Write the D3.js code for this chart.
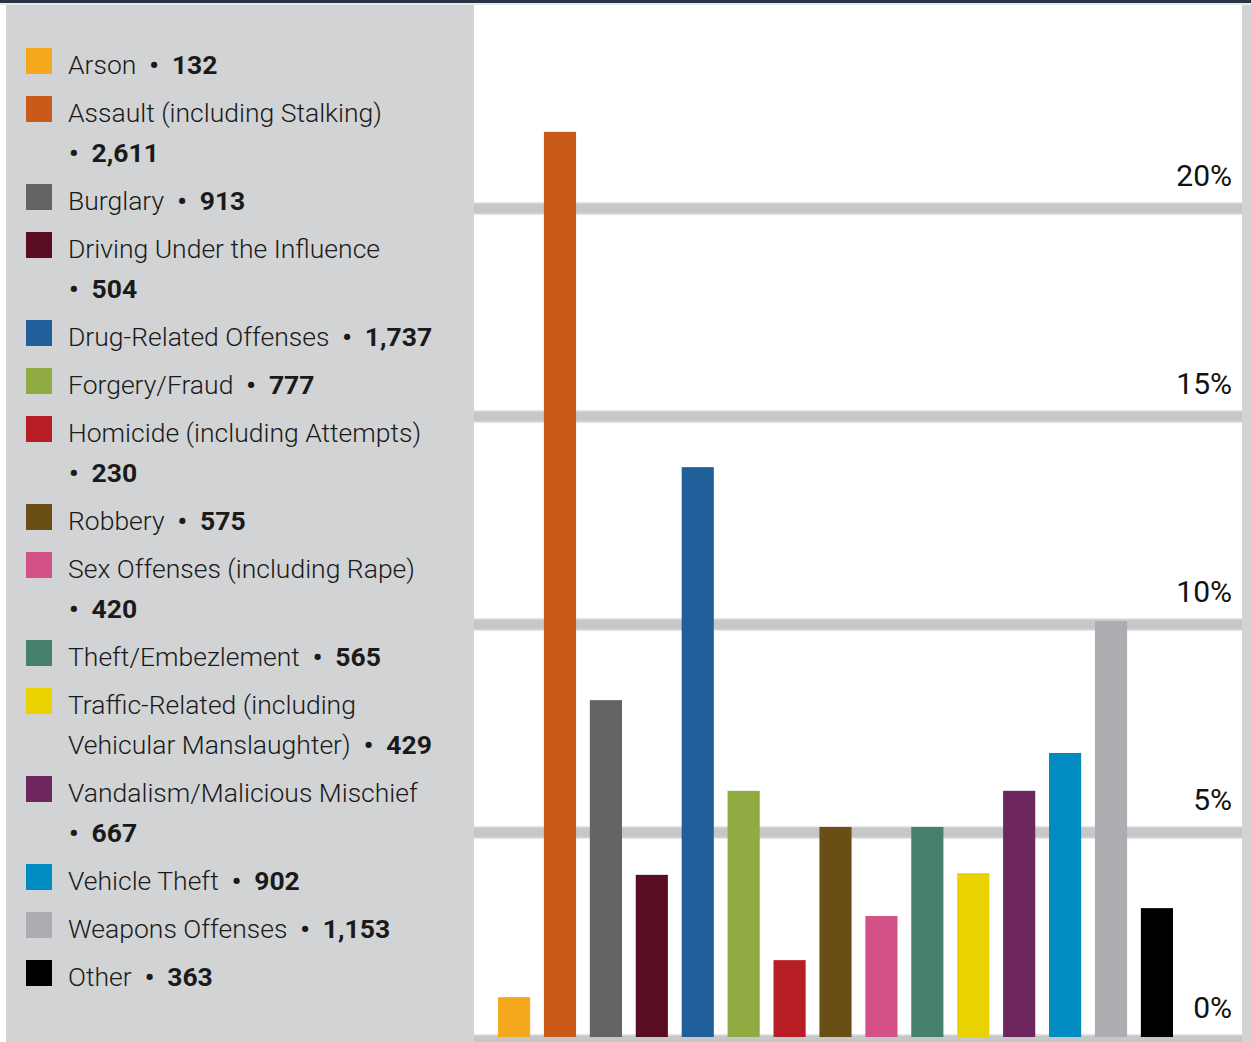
<!DOCTYPE html>
<html>
<head>
<meta charset="utf-8">
<script src="https://cdn.jsdelivr.net/npm/d3@7"></script>
<style>
  body { margin: 0; background: #fff; }
  svg { display: block; font-family: Roboto, "Noto Sans", sans-serif; }
</style>
</head>
<body>
<div id="chart"></div>
<script>
// offense categories, counts shown in the legend, bar heights (% share) and colours
const categories = ["Arson", "Assault (including Stalking)", "Burglary", "Driving Under the Influence",
  "Drug-Related Offenses", "Forgery/Fraud", "Homicide (including Attempts)", "Robbery",
  "Sex Offenses (including Rape)", "Theft/Embezlement", "Traffic-Related (including Vehicular Manslaughter)",
  "Vandalism/Malicious Mischief", "Vehicle Theft", "Weapons Offenses", "Other"];
const counts = [132, 2611, 913, 504, 1737, 777, 230, 575, 420, 565, 429, 667, 902, 1153, 363];
const shares = [1.03, 21.83, 8.17, 3.97, 13.77, 5.99, 1.92, 5.12, 2.98, 5.12, 4.01, 5.99, 6.9, 10.07, 3.17];
const colors = ["#f5a81c", "#c95a1a", "#636466", "#5a0d22", "#215f9a", "#8fab41", "#b71d25", "#6b4e16",
  "#d35186", "#46806b", "#ead200", "#6e265e", "#008bc1", "#acadb0", "#000000"];
const yTicks = [0, 5, 10, 15, 20];

const W = 1251, H = 1042;
const svg = d3.select("#chart").append("svg").attr("width", W).attr("height", H);

// panels
svg.append("rect").attr("x", 6).attr("y", 4).attr("width", 468).attr("height", H).attr("fill", "#d1d3d4");
svg.append("rect").attr("x", 1242).attr("y", 4).attr("width", 9).attr("height", H).attr("fill", "#d1d3d4");
svg.append("rect").attr("x", 0).attr("y", 0).attr("width", W).attr("height", 3).attr("fill", "#283445");
svg.append("rect").attr("x", 0).attr("y", 3).attr("width", W).attr("height", 2).attr("fill", "#e6e7e8");

// scales
const plotLeft = 474, plotRight = 1242;
const x = d3.scaleBand().domain(categories).range([498, 1173]).paddingInner(0.3).paddingOuter(0);
const y = d3.scaleLinear().domain([0, 20]).range([1040, 208]);

// gridlines + labels via axis
const axis = d3.axisLeft(y).tickValues(yTicks).tickSize(plotRight - plotLeft).tickFormat(d => d + "%");
const ag = svg.append("g").attr("transform", `translate(${plotRight},0)`).call(axis);
ag.select(".domain").remove();
ag.selectAll(".tick line").attr("stroke", "#c6c7c9").attr("stroke-width", 10);
ag.selectAll(".tick").insert("line", "line")
  .attr("x2", -(plotRight - plotLeft)).attr("stroke", "#e4e5e6").attr("stroke-width", 13);
ag.selectAll(".tick text")
  .attr("x", -10).attr("dy", -23)
  .attr("text-anchor", "end")
  .attr("fill", "#111").attr("font-size", 30).attr("font-family", "Roboto, sans-serif");

// bars
svg.append("g").selectAll("rect").data(categories).join("rect")
  .attr("x", d => x(d))
  .attr("width", x.bandwidth())
  .attr("y", (d, i) => y(shares[i]))
  .attr("height", (d, i) => y(0) - 3 - y(shares[i]))
  .attr("fill", (d, i) => colors[i]);

// legend
const leg = svg.append("g").attr("font-size", 26.5).attr("fill", "#1a1a1a");
const textX = 68, maxX = 445, lineH = 40, gap = 8;

function renderLine(t, words, unit) {
  t.selectAll("tspan").remove();
  if (words.length) t.append("tspan").attr("font-weight", 300).text(words.join(" "));
  if (unit) {
    t.append("tspan").attr("font-weight", 700).attr("dx", words.length ? 13 : 1).text("•");
    t.append("tspan").attr("font-weight", 700).attr("dx", 13).text(unit);
  }
}

let baseline = 74;
categories.forEach((cat, i) => {
  const tokens = cat.split(" ");
  const unit = d3.format(",")(counts[i]);
  leg.append("rect").attr("x", 26).attr("y", baseline - 26).attr("width", 26).attr("height", 26)
    .attr("fill", colors[i]);

  const lines = [];
  let cur = [];
  const probe = leg.append("text").attr("x", textX).attr("y", -100);
  tokens.forEach(w => {
    renderLine(probe, cur.concat([w]), null);
    const bb = probe.node().getBBox();
    if (bb.x + bb.width > maxX && cur.length) { lines.push({ words: cur, unit: null }); cur = [w]; }
    else cur.push(w);
  });
  renderLine(probe, cur, unit);
  let bb = probe.node().getBBox();
  if (bb.x + bb.width > maxX && cur.length) {
    lines.push({ words: cur, unit: null });
    lines.push({ words: [], unit: unit });
  } else lines.push({ words: cur, unit: unit });
  probe.remove();

  lines.forEach((ln, j) => {
    const t = leg.append("text").attr("x", textX).attr("y", baseline + j * lineH);
    renderLine(t, ln.words, ln.unit);
  });
  baseline += lines.length * lineH + gap;
});
</script>
</body>
</html>
